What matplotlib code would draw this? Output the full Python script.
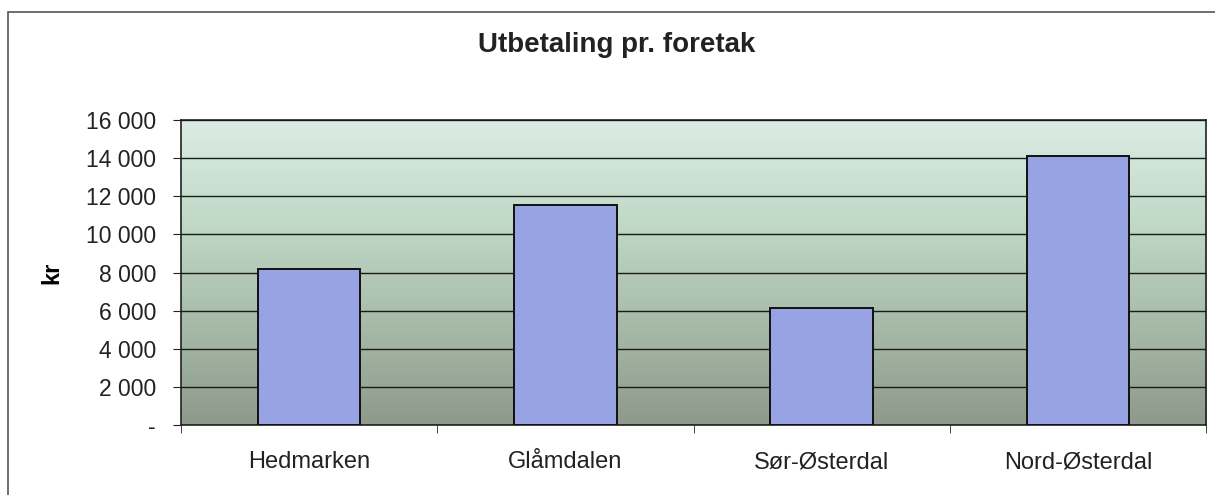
import numpy as np
import matplotlib.pyplot as plt
from matplotlib.colors import LinearSegmentedColormap
from matplotlib.patches import Rectangle
from matplotlib.ticker import FuncFormatter

regions = ["Hedmarken", "Glåmdalen", "Sør-Østerdal", "Nord-Østerdal"]
payout = [8200, 11550, 6150, 14130]
yticks = [0, 2000, 4000, 6000, 8000, 10000, 12000, 14000, 16000]

plt.rcParams['font.family'] = ['Liberation Sans', 'DejaVu Sans']

fig = plt.figure(figsize=(12.15, 4.95), dpi=100)
W, H = 1215, 495
ax = fig.add_axes([181 / W, 1 - 425 / H, (1206 - 181) / W, (425 - 120) / H])

# outer chart border (right/bottom fall outside the scan)
fig.patches.append(Rectangle((8 / W, -0.1), 1.2, 1 - 12 / H + 0.1,
                             transform=fig.transFigure, fill=False,
                             edgecolor='#555555', linewidth=1.2))

# gradient background of plot area
cmap = LinearSegmentedColormap.from_list(
    'bg', ['#8e9a8b', '#a7bba9', '#c1d9c7', '#dcece4'])
grad = np.linspace(0, 1, 256).reshape(-1, 1)
ax.imshow(grad, aspect='auto', cmap=cmap, origin='lower',
          extent=[-0.5, len(regions) - 0.5, 0, 16000], zorder=0)

x = np.arange(len(regions))
ax.bar(x, payout, width=0.4, color='#98a3e4', edgecolor='#111111',
       linewidth=1.4, zorder=3)

ax.set_xlim(-0.5, len(regions) - 0.5)
ax.set_ylim(0, 16000)
ax.set_yticks(yticks)
ax.yaxis.set_major_formatter(FuncFormatter(
    lambda v, p: '-' if v == 0 else f"{int(v):,}".replace(',', ' ')))
ax.grid(axis='y', color='#1a1a1a', linewidth=1.0, zorder=1)
ax.set_axisbelow(False)

ax.set_xticks(x)
ax.set_xticklabels(regions)
ax.set_xticks(np.arange(len(regions) + 1) - 0.5, minor=True)
ax.tick_params(axis='x', which='major', length=0, pad=19, labelsize=17,
               labelcolor='#222222')
ax.tick_params(axis='x', which='minor', length=6, color='#222222')
ax.tick_params(axis='y', length=6, pad=12, labelsize=16.5,
               labelcolor='#222222', color='#222222')

for s in ax.spines.values():
    s.set_color('#222222')
    s.set_linewidth(1.2)

ax.set_ylabel('kr', fontsize=17, fontweight='bold', va='center')
ax.yaxis.set_label_coords(-129 / (1206 - 181), 0.5)
fig.text(617 / W, 1 - 45 / H, 'Utbetaling pr. foretak', ha='center',
         va='center', fontsize=20, fontweight='bold', color='#222222')

fig.savefig('out.png', dpi=100)
